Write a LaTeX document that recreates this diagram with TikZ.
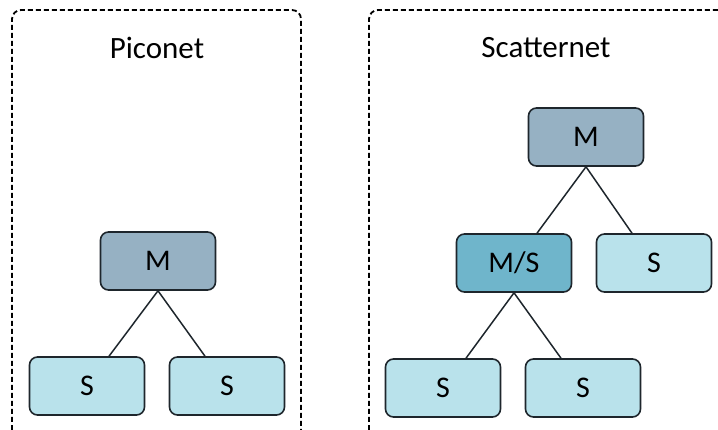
\documentclass[tikz,border=0pt]{standalone}
\usepackage{fontspec}
\setmainfont{Carlito}
\usepackage{tikz}
\usetikzlibrary{positioning}

\definecolor{mastercol}{RGB}{150,177,195}
\definecolor{bridgecol}{RGB}{111,181,203}
\definecolor{slavecol}{RGB}{185,226,235}
\definecolor{edgecol}{RGB}{30,38,44}

\tikzset{
    unit/.style={draw=edgecol, line width=1.6pt, rounded corners=8pt,
        minimum width=115pt, minimum height=58pt, inner sep=0pt,
        font=\fontsize{30}{36}\selectfont},
    master/.style={unit, fill=mastercol},
    bridge/.style={unit, fill=bridgecol},
    slave/.style={unit, fill=slavecol},
    frame/.style={line width=1.8pt, dash pattern=on 5pt off 3pt, rounded corners=9pt},
    link/.style={line width=1.5pt, edgecol}
}

\begin{document}
\begin{tikzpicture}[x=1pt, y=-1pt]
    \useasboundingbox (0, 0) rectangle (718, 430);
    % Frames
    \draw[frame] (12, 430) -- (12, 10) -- (301, 10) -- (301, 430);
    \draw[frame] (369, 430) -- (369, 10) -- (730, 10);
    % Labels
    \node (piclabel) at (157, 48) {\fontsize{31}{37}\selectfont Piconet};
    \node (scalabel) at (546, 48) {\fontsize{31}{37}\selectfont Scatternet};
    % Piconet
    \node[master] (pm) at (158, 261) {M};
    \node[slave] (ps1) at (87, 386) {S};
    \node[slave] (ps2) at (227, 386) {S};
    \draw[link] (pm.south) -- (ps1.north -| 109, 0);
    \draw[link] (pm.south) -- (ps2.north -| 205, 0);
    % Scatternet
    \node[master] (sm) at (586, 137) {M};
    \node[bridge] (sms) at (514, 263) {M/S};
    \node[slave] (ss0) at (654, 263) {S};
    \node[slave] (ss1) at (443, 388) {S};
    \node[slave] (ss2) at (583, 388) {S};
    \draw[link] (sm.south) -- (sms.north -| 537, 0);
    \draw[link] (sm.south) -- (ss0.north -| 632, 0);
    \draw[link] (sms.south) -- (ss1.north -| 466, 0);
    \draw[link] (sms.south) -- (ss2.north -| 561, 0);
\end{tikzpicture}
\end{document}
